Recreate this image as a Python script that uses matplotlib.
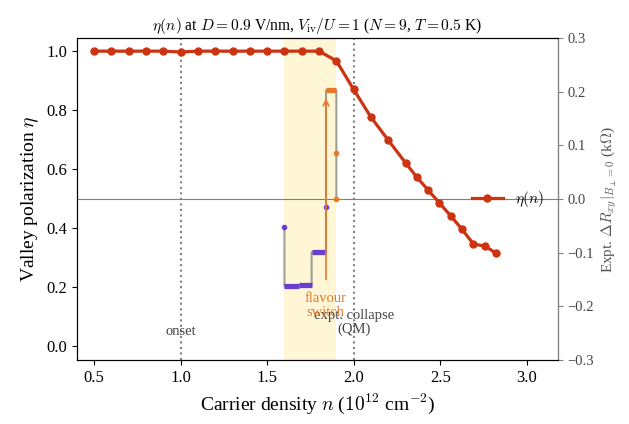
import numpy as np
import matplotlib
matplotlib.use('Agg')
import matplotlib.pyplot as plt

# theory curve eta(n)
n_theory = [0.5, 0.6, 0.7, 0.8, 0.9, 1.0, 1.1, 1.2, 1.3, 1.4, 1.5, 1.6, 1.7, 1.8,
            1.9, 2.0, 2.1, 2.2, 2.3, 2.363, 2.43, 2.494, 2.56, 2.626, 2.692, 2.759, 2.825]
eta = [1.0, 1.0, 1.0, 1.0, 1.0, 0.997, 1.0, 1.0, 1.0, 1.0, 1.0, 1.0, 1.0, 1.0,
       0.967, 0.870, 0.776, 0.698, 0.621, 0.574, 0.529, 0.486, 0.442, 0.396, 0.346, 0.339, 0.314]

# experimental Delta R_xy trace (right axis)
n_expt = [1.60, 1.60, 1.685, 1.757, 1.757, 1.84, 1.84, 1.84, 1.90, 1.90, 1.90]
R_expt = [-0.052, -0.163, -0.160, -0.160, -0.099, -0.099, -0.014, 0.203, 0.203, 0.086, 0.0]

# plateaus (n_start, n_end, R)
plateaus_purple = [(1.60, 1.685, -0.163), (1.685, 1.757, -0.160), (1.757, 1.84, -0.099)]
plateaus_orange = [(1.84, 1.90, 0.203)]
pts_purple_n = [1.60, 1.84]
pts_purple_R = [-0.052, -0.014]
pts_orange_n = [1.90, 1.90]
pts_orange_R = [0.086, 0.0]

n_onset = 1.0
n_collapse = 2.0
switch_window = (1.6, 1.9)

RED = '#cc3311'
PURPLE = '#6a3fd0'
ORANGE = '#e8782a'
GRAY = '#a09f94'

plt.rc('font', family='Liberation Serif', size=10)
plt.rc('mathtext', fontset='cm')

fig = plt.figure(figsize=(6.29, 4.24), dpi=100)
ax = fig.add_axes([0.122, 0.151, 0.765, 0.759])
ax2 = ax.twinx()

ax.axvspan(*switch_window, color='#fff6d5', zorder=0, lw=0)
ax.axhline(0.5, color='gray', lw=0.8, zorder=1)
ax.axvline(n_onset, color='gray', ls=':', lw=1.5, zorder=1)
ax.axvline(n_collapse, color='gray', ls=':', lw=1.5, zorder=1)
ax.plot(n_theory, eta, '-o', color=RED, lw=2.3, ms=5, zorder=3, label=r'$\eta(n)$')

ax.text(n_onset, 0.051, 'onset', ha='center', va='center', fontsize=10.5, color='#444444')
ax.text(n_collapse, 0.081, 'expt. collapse\n(QM)', ha='center', va='center', fontsize=10.5,
        color='#444444', linespacing=1.05)
ax.text(1.837, 0.137, 'flavour\nswitch', ha='center', va='center', fontsize=10.5,
        color=ORANGE, linespacing=1.05)

ax.set_xlim(0.4, 3.18)
ax.set_ylim(-0.047, 1.044)
ax.set_xticks([0.5, 1.0, 1.5, 2.0, 2.5, 3.0])
ax.tick_params(labelsize=12)
ax.set_xlabel(r'Carrier density $n$ ($10^{12}$ cm$^{-2}$)', fontsize=14)
ax.set_ylabel(r'Valley polarization $\eta$', fontsize=14)
ax.set_title(r'$\eta(n)$ at $D=0.9$ V/nm, $V_{\rm iv}/U=1$ ($N=9$, $T=0.5$ K)', fontsize=11.2)

ax2.plot(n_expt, R_expt, color=GRAY, lw=1.5, zorder=2)
for a, b, r in plateaus_purple:
    ax2.hlines(r, a, b, color=PURPLE, lw=3.8, zorder=3)
for a, b, r in plateaus_orange:
    ax2.hlines(r, a, b, color=ORANGE, lw=3.8, zorder=3)
ax2.plot(pts_purple_n, pts_purple_R, 'o', color=PURPLE, ms=3, zorder=4)
ax2.plot(pts_orange_n, pts_orange_R, 'o', color=ORANGE, ms=3, zorder=4)
ax2.annotate('', xy=(1.84, 0.193), xytext=(1.84, -0.155),
             arrowprops=dict(arrowstyle='->', color=ORANGE, lw=1.2), zorder=5)
ax2.set_ylim(-0.3, 0.3)
ax2.set_yticks([-0.3, -0.2, -0.1, 0.0, 0.1, 0.2, 0.3])
ax2.set_ylabel(r'Expt. $\Delta R_{xy}|_{B_\perp=0}$ (k$\Omega$)', fontsize=11, color='#555555')
ax2.spines['right'].set_color('gray')
ax2.tick_params(axis='y', colors='gray', labelcolor='#444444', labelsize=10.5)

h, l = ax.get_legend_handles_labels()
ax2.legend(h, l, loc='center right', frameon=False, fontsize=11, bbox_to_anchor=(1.0, 0.5))

fig.savefig('out.png', dpi=100)
